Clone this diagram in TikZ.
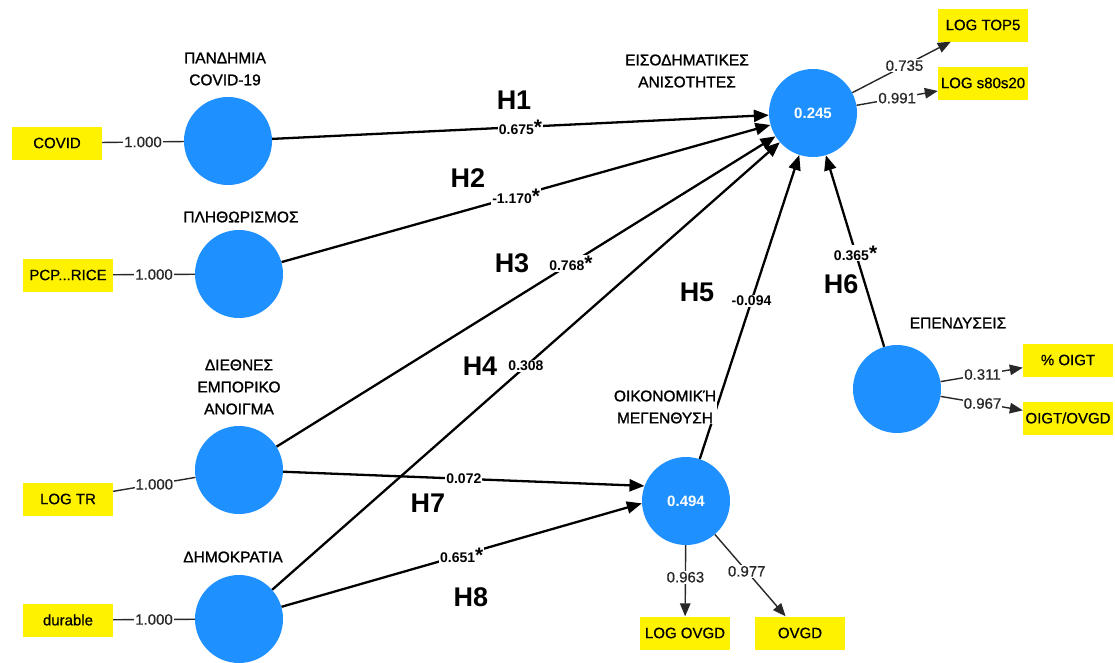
\documentclass[tikz,border=0pt]{standalone}
\usepackage{fontspec}
\setmainfont{Liberation Sans}
\newfontfamily\heavyfont[FakeBold=1.2]{Liberation Sans}
\newfontfamily\midfont[FakeBold=0.6]{Liberation Sans}
\usetikzlibrary{arrows.meta}
\definecolor{lvblue}{RGB}{30,144,255}
\definecolor{loadgray}{RGB}{40,40,40}
\newcommand\sigstar{{\fontsize{21}{21}\selectfont *}}
\begin{document}
\begin{tikzpicture}[x=1pt,y=-1pt,
  lv/.style={circle, fill=lvblue, minimum size=88pt, inner sep=0pt, text=white, font=\bfseries\fontsize{15}{18}\selectfont},
  ind/.style={fill=yellow, minimum width=90pt, minimum height=33pt, inner sep=0pt, font=\midfont\fontsize{15}{18}\selectfont},
  lvlabel/.style={fill=white, align=center, inner sep=1pt, font=\heavyfont\fontsize{15.5}{22}\selectfont},
  hyp/.style={font=\bfseries\fontsize{27}{30}\selectfont},
  structural/.style={line width=2.3pt, -{Triangle[length=15pt,width=12pt]}},
  loading/.style={line width=1.4pt, draw=loadgray, -{Triangle[length=13pt,width=10.5pt]}},
  single/.style={line width=1.4pt, draw=loadgray},
  coef/.style={fill=white, inner sep=1pt, font=\bfseries\fontsize{14}{16}\selectfont},
  ldlab/.style={fill=white, inner sep=1pt, text=loadgray, font=\midfont\fontsize{15}{17}\selectfont}]
\fill[white] (0,0) rectangle (1115,662);
\useasboundingbox (0,0) rectangle (1115,662);

% latent variables
\node[lv] (cov) at (228,141) {};
\node[lv] (pli) at (239,274) {};
\node[lv] (die) at (239,470) {};
\node[lv] (dim) at (239,619) {};
\node[lv] (eis) at (813,113) {0.245};
\node[lv] (oik) at (686,501) {0.494};
\node[lv] (epe) at (897,389) {};

% indicators
\node[ind] (icov) at (57,143) {COVID};
\node[ind] (ipcp) at (68,275) {PCP...RICE};
\node[ind] (itr) at (68,499) {LOG TR};
\node[ind] (idur) at (68,620) {durable};
\node[ind] (itop) at (983,25) {LOG TOP5};
\node[ind] (is80) at (983,83) {LOG s80s20};
\node[ind] (ioigt) at (1068,360) {\% OIGT};
\node[ind] (iratio) at (1068,418) {OIGT/OVGD};
\node[ind] (ilogovgd) at (685,633) {LOG OVGD};
\node[ind] (iovgd) at (800,633) {OVGD};

% single-item lines
\draw[single] (icov) -- node[ldlab] {1.000} (cov);
\draw[single] (ipcp) -- node[ldlab] {1.000} (pli);
\draw[single] (itr) -- node[ldlab] {1.000} (die);
\draw[single] (idur) -- node[ldlab] {1.000} (dim);

% outer loadings
\draw[loading] (eis) -- node[ldlab, pos=0.53] {0.735} (itop);
\draw[loading] (eis) -- node[ldlab, pos=0.5] {0.991} (is80);
\draw[loading] (epe) -- node[ldlab, pos=0.51] {0.311} (ioigt);
\draw[loading] (epe) -- node[ldlab, pos=0.51] {0.967} (iratio);
\draw[loading] (oik) -- node[ldlab, pos=0.45] {0.963} (ilogovgd);
\draw[loading] (oik) -- node[ldlab, pos=0.45] {0.977} (iovgd);

% structural paths
\draw[structural] (cov) -- node[coef, pos=0.5] {0.675\sigstar} (eis);
\draw[structural] (pli) -- node[coef, pos=0.48] {-1.170\sigstar} (eis);
\draw[structural] (die) -- node[coef, pos=0.59] {0.768\sigstar} (eis);
\draw[structural] (dim) -- node[coef, pos=0.5] {0.308} (eis);
\draw[structural] (oik) -- node[coef, pos=0.52] {-0.094} (eis);
\draw[structural] (epe) -- node[coef, pos=0.49] {0.365\sigstar} (eis);
\draw[structural] (die) -- node[coef, pos=0.5] {0.072} (oik.160);
\draw[structural] (dim) -- node[coef, pos=0.5] {0.651\sigstar} (oik.183);

% construct labels
\node[lvlabel] (lcov) at (225,69) {ΠΑΝΔΗΜΙΑ\\COVID-19};
\node[lvlabel] (lpli) at (241,217) {ΠΛΗΘΩΡΙΣΜΟΣ};
\node[lvlabel] (ldie) at (239,387) {ΔΙΕΘΝΕΣ\\ΕΜΠΟΡΙΚΟ\\ΑΝΟΙΓΜΑ};
\node[lvlabel] (ldim) at (233,557) {ΔΗΜΟΚΡΑΤΙΑ};
\node[lvlabel] (leis) at (687,71) {ΕΙΣΟΔΗΜΑΤΙΚΕΣ\\ΑΝΙΣΟΤΗΤΕΣ};
\node[lvlabel] (loik) at (665,407) {ΟΙΚΟΝΟΜΙΚΉ\\ΜΕΓΕΝΘΥΣΗ};
\node[lvlabel] (lepe) at (958,323) {ΕΠΕΝΔΥΣΕΙΣ};

% hypothesis labels
\node[hyp] (h1) at (514,100) {H1};
\node[hyp] (h2) at (468,178) {H2};
\node[hyp] (h3) at (512,263) {H3};
\node[hyp] (h4) at (480,366) {H4};
\node[hyp] (h5) at (697,292) {H5};
\node[hyp] (h6) at (841,284) {H6};
\node[hyp] (h7) at (428,503) {H7};
\node[hyp] (h8) at (471,597) {H8};
\end{tikzpicture}
\end{document}
